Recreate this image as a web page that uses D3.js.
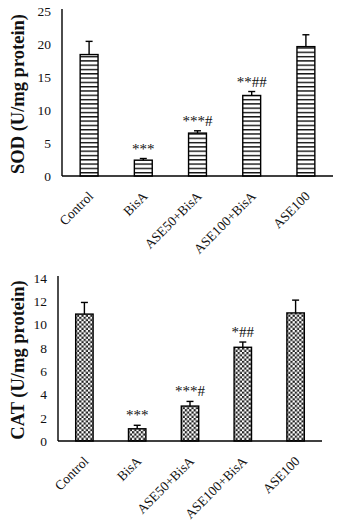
<!DOCTYPE html>
<html><head><meta charset="utf-8">
<script src="https://cdn.jsdelivr.net/npm/d3@7"></script>
<style>body{margin:0;background:#fff}svg{display:block}</style>
</head><body><svg id="c" width="344" height="532"></svg>
<script>
const categories = ["Control","BisA","ASE50+BisA","ASE100+BisA","ASE100"];
const sodValues = [18.4, 2.4, 6.5, 12.2, 19.6];
const sodErrors = [2.0, 0.25, 0.35, 0.6, 1.8];
const sodMarks = ["", "***", "***#", "**##", ""];
const sodTicks = [0,5,10,15,20,25];
const catValues = [10.9, 1.05, 3.0, 8.05, 11.0];
const catErrors = [1.0, 0.3, 0.4, 0.45, 1.1];
const catMarks = ["", "***", "***#", "*##", ""];
const catTicks = [0,2,4,6,8,10,12,14];

const svg = d3.select("#c");
const defs = svg.append("defs");
const stripe = defs.append("pattern").attr("id","stripe").attr("patternUnits","userSpaceOnUse")
  .attr("width",4).attr("height",4.3);
stripe.append("rect").attr("width",4).attr("height",4.3).attr("fill","#fff");
stripe.append("rect").attr("y",0).attr("width",4).attr("height",1.4).attr("fill","#111");
const check = defs.append("pattern").attr("id","check").attr("patternUnits","userSpaceOnUse")
  .attr("width",4.4).attr("height",4.4);
check.append("rect").attr("width",4.4).attr("height",4.4).attr("fill","#fff");
check.append("rect").attr("width",2.2).attr("height",2.2).attr("fill","#222");
check.append("rect").attr("x",2.2).attr("y",2.2).attr("width",2.2).attr("height",2.2).attr("fill","#222");

const FONT = "Liberation Serif";
function panel(o){
  const x = d3.scaleBand().domain(categories).range([o.x0,o.x1]).paddingInner(0.67).paddingOuter(0.335);
  const y = d3.scaleLinear().domain([0,o.max]).range([o.y0,o.y1]);
  const g = svg.append("g");
  g.selectAll("rect.bar").data(o.values).join("rect")
    .attr("x",(d,i)=>x(categories[i])).attr("width",x.bandwidth())
    .attr("y",d=>y(d)).attr("height",d=>y(0)-y(d))
    .attr("fill",`url(#${o.pat})`).attr("stroke","#000").attr("stroke-width",1.4);
  o.values.forEach((v,i)=>{
    const cx = x(categories[i])+x.bandwidth()/2;
    const top = y(v+o.errors[i]);
    g.append("line").attr("x1",cx).attr("x2",cx).attr("y1",y(v)).attr("y2",top)
      .attr("stroke","#000").attr("stroke-width",1.4);
    g.append("line").attr("x1",cx-3.5).attr("x2",cx+3.5).attr("y1",top).attr("y2",top)
      .attr("stroke","#000").attr("stroke-width",1.4);
    if(o.marks[i]) g.append("text").attr("x",cx).attr("y",top-5)
      .attr("text-anchor","middle").attr("font-family",FONT).attr("font-size",15)
      .attr("fill","#111").text(o.marks[i]);
  });
  const ya = d3.axisLeft(y).tickValues(o.ticks).tickSize(0).tickPadding(11);
  const yg = g.append("g").attr("transform",`translate(${o.x0},0)`).call(ya);
  yg.select(".domain").attr("stroke","#000").attr("stroke-width",1.4).attr("d",`M0,${o.y0}V${o.y1-2}`);
  yg.selectAll("text").attr("font-family",FONT).attr("font-size",13.5).attr("fill","#111");
  const xa = d3.axisBottom(x).tickSize(0).tickFormat("");
  const xg = g.append("g").attr("transform",`translate(0,${o.y0})`).call(xa);
  xg.select(".domain").attr("stroke","#000").attr("stroke-width",1.4).attr("d",`M${o.x0},0H${o.x1}`);
  g.selectAll("text.xl").data(categories).join("text").attr("class","xl")
    .attr("transform",d=>`translate(${x(d)+x.bandwidth()/2+5},${o.y0+21}) rotate(-45)`)
    .attr("text-anchor","end").attr("font-family",FONT).attr("font-size",13.5).attr("fill","#111")
    .text(d=>d);
  g.append("text").attr("transform",`translate(${o.lx},${o.ly}) rotate(-90)`)
    .attr("text-anchor","middle").attr("font-family",FONT).attr("font-weight","bold")
    .attr("font-size",18.5).attr("fill","#111").text(o.label);
}
panel({x0:62,x1:333,y0:176,y1:11,max:25,values:sodValues,errors:sodErrors,marks:sodMarks,ticks:sodTicks,
  pat:"stripe",label:"SOD (U/mg protein)",lx:24,ly:94});
panel({x0:58,x1:322,y0:441,y1:278,max:14,values:catValues,errors:catErrors,marks:catMarks,ticks:catTicks,
  pat:"check",label:"CAT (U/mg protein)",lx:24,ly:360});
</script></body></html>
